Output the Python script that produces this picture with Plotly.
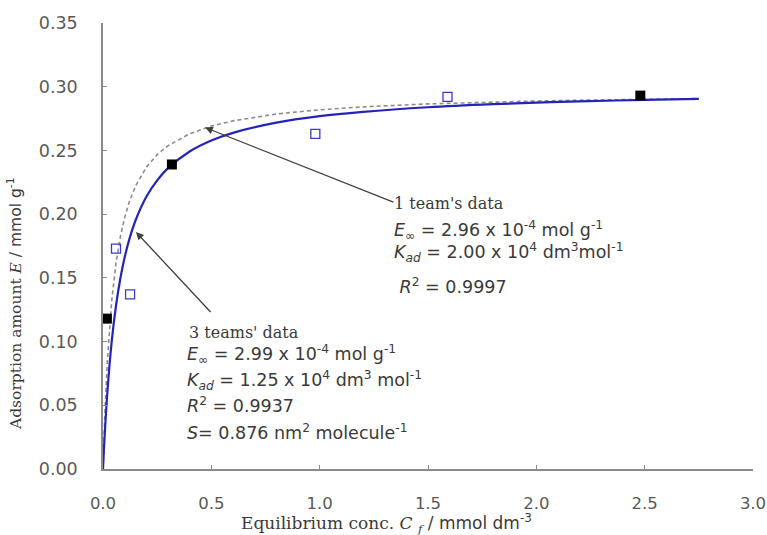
import plotly.graph_objects as go

# ---- data ----
team3_x = [0.018, 0.318, 2.48]          # filled black squares
team3_y = [0.118, 0.239, 0.293]
team1_x = [0.06, 0.125, 0.98, 1.59]     # open blue squares
team1_y = [0.173, 0.137, 0.263, 0.292]

curve_x = [0, 0.005, 0.01, 0.02, 0.04, 0.06, 0.08, 0.1, 0.12, 0.15, 0.2, 0.25, 0.3,
           0.4, 0.5, 0.6, 0.8, 1.0, 1.2, 1.5, 1.8, 2.0, 2.2, 2.5, 2.75]
fit3_y = [0, 0.0176, 0.0332, 0.0598, 0.0997, 0.1281, 0.1495, 0.1661, 0.1794, 0.1950,
          0.2136, 0.2265, 0.2361, 0.2492, 0.2578, 0.2638, 0.2718, 0.2769, 0.2803,
          0.2839, 0.2863, 0.2875, 0.2885, 0.2897, 0.2905]
fit1_y = [0, 0.0269, 0.0493, 0.0846, 0.1316, 0.1615, 0.1822, 0.1973, 0.2089, 0.2220,
          0.2368, 0.2467, 0.2537, 0.2631, 0.2691, 0.2732, 0.2786, 0.2819, 0.2842,
          0.2865, 0.2880, 0.2888, 0.2894, 0.2902, 0.2907]

x_ticks = [0.0, 0.5, 1.0, 1.5, 2.0, 2.5, 3.0]
y_ticks = [0.00, 0.05, 0.10, 0.15, 0.20, 0.25, 0.30, 0.35]

team1_lines = [
    "<i>E</i><sub>∞</sub> = 2.96 x 10<sup>-4</sup> mol g<sup>-1</sup>",
    "<i>K</i><sub><i>ad</i></sub> = 2.00 x 10<sup>4</sup> dm<sup>3</sup>mol<sup>-1</sup>",
    " <i>R</i><sup>2</sup> = 0.9997",
]
team3_lines = [
    "<i>E</i><sub>∞</sub> = 2.99 x 10<sup>-4</sup> mol g<sup>-1</sup>",
    "<i>K</i><sub><i>ad</i></sub> = 1.25 x 10<sup>4</sup> dm<sup>3</sup> mol<sup>-1</sup>",
    "<i>R</i><sup>2</sup> = 0.9937",
    "<i>S</i>= 0.876 nm<sup>2</sup> molecule<sup>-1</sup>",
]

SANS = "DejaVu Sans"
SERIF = "DejaVu Serif"
GREY = "#595959"
TXT = "#3a3a3a"

fig = go.Figure()
fig.add_trace(go.Scatter(x=curve_x, y=fit1_y, mode="lines",
                         line=dict(color="#8c8c8c", width=1.6, dash="4px,3px"),
                         hoverinfo="skip"))
fig.add_trace(go.Scatter(x=curve_x, y=fit3_y, mode="lines", line_shape="spline",
                         line=dict(color="#2424b8", width=2.2), hoverinfo="skip"))
fig.add_trace(go.Scatter(x=team1_x, y=team1_y, mode="markers", cliponaxis=False,
                         marker=dict(symbol="square-open", size=9, color="#3a3ac8",
                                     line=dict(width=1.3))))
fig.add_trace(go.Scatter(x=team3_x, y=team3_y, mode="markers", cliponaxis=False,
                         marker=dict(symbol="square", size=10, color="#000000")))

W, H = 767, 535
L, R, T, B = 103, 14, 23, 66
pw, ph = W - L - R, H - T - B
X0, Y0 = L, H - B   # pixel of the plot origin


def px(xs):
    return (xs - X0) / pw


def py(ys):
    return (Y0 - ys) / ph


ann = []
# arrows
ann.append(dict(x=0.471, y=0.268, ax=1.347, ay=0.209, xref="x", yref="y",
                axref="x", ayref="y", text="", showarrow=True, arrowhead=2,
                arrowsize=1.2, arrowwidth=1.3, arrowcolor="#404040"))
ann.append(dict(x=0.152, y=0.186, ax=0.503, ay=0.122, xref="x", yref="y",
                axref="x", ayref="y", text="", showarrow=True, arrowhead=2,
                arrowsize=1.2, arrowwidth=1.3, arrowcolor="#404040"))

# 1 team's block
ann.append(dict(x=px(392), y=py(204), xref="paper", yref="paper", text="1 team's data",
                showarrow=False, xanchor="left", yanchor="middle",
                font=dict(family=SERIF, size=16, color=TXT)))
for yy, t in zip([230, 253, 286], team1_lines):
    ann.append(dict(x=px(392), y=py(yy), xref="paper", yref="paper", text=t,
                    showarrow=False, xanchor="left", yanchor="middle",
                    font=dict(family=SANS, size=17.5, color=TXT)))
# 3 teams' block
ann.append(dict(x=px(187), y=py(332), xref="paper", yref="paper", text="3 teams' data",
                showarrow=False, xanchor="left", yanchor="middle",
                font=dict(family=SERIF, size=16, color=TXT)))
for yy, t in zip([355, 380, 405, 432], team3_lines):
    ann.append(dict(x=px(185), y=py(yy), xref="paper", yref="paper", text=t,
                    showarrow=False, xanchor="left", yanchor="middle",
                    font=dict(family=SANS, size=17.5, color=TXT)))

# axis titles
ann.append(dict(x=px(386), y=py(523), xref="paper", yref="paper", showarrow=False,
                xanchor="center", yanchor="middle",
                text=(f"<span style='font-family:{SERIF}'>Equilibrium conc. <i>C</i> <sub><i>f</i></sub></span>"
                      f" / mmol dm<sup>-3</sup>"),
                font=dict(family=SANS, size=17, color=TXT)))
ann.append(dict(x=px(15), y=py(304), xref="paper", yref="paper", showarrow=False,
                xanchor="center", yanchor="middle", textangle=-90,
                text=(f"<span style='font-family:{SERIF}'>Adsorption amount <i>E</i></span>"
                      f" / mmol g<sup>-1</sup>"),
                font=dict(family=SANS, size=15.5, color=TXT)))

fig.update_layout(
    width=W, height=H,
    margin=dict(l=L, r=R, t=T, b=B, autoexpand=False),
    paper_bgcolor="white", plot_bgcolor="white",
    showlegend=False,
    annotations=ann,
    xaxis=dict(range=[0, 3], tickvals=x_ticks, ticktext=[f"{v:.1f}" for v in x_ticks],
               showgrid=False, zeroline=False, showline=True, linecolor="#8a8a8a",
               linewidth=1.5, ticks="inside", ticklen=4, tickcolor="#8a8a8a",
               tickfont=dict(family=SANS, size=16.5, color=GREY), ticklabelstandoff=18,
               ticklabeloverflow="allow", automargin=False),
    yaxis=dict(range=[0, 0.35], tickvals=y_ticks, ticktext=[f"{v:.2f}" for v in y_ticks],
               showgrid=False, zeroline=False, showline=True, linecolor="#8a8a8a",
               linewidth=1.5, ticks="inside", ticklen=4, tickcolor="#8a8a8a",
               tickfont=dict(family=SANS, size=17.5, color=GREY), ticklabelstandoff=20,
               automargin=False),
)

fig.write_html("out.html", config={"displayModeBar": False},
               post_script="document.body.style.margin='0';document.body.style.overflow='hidden';")
